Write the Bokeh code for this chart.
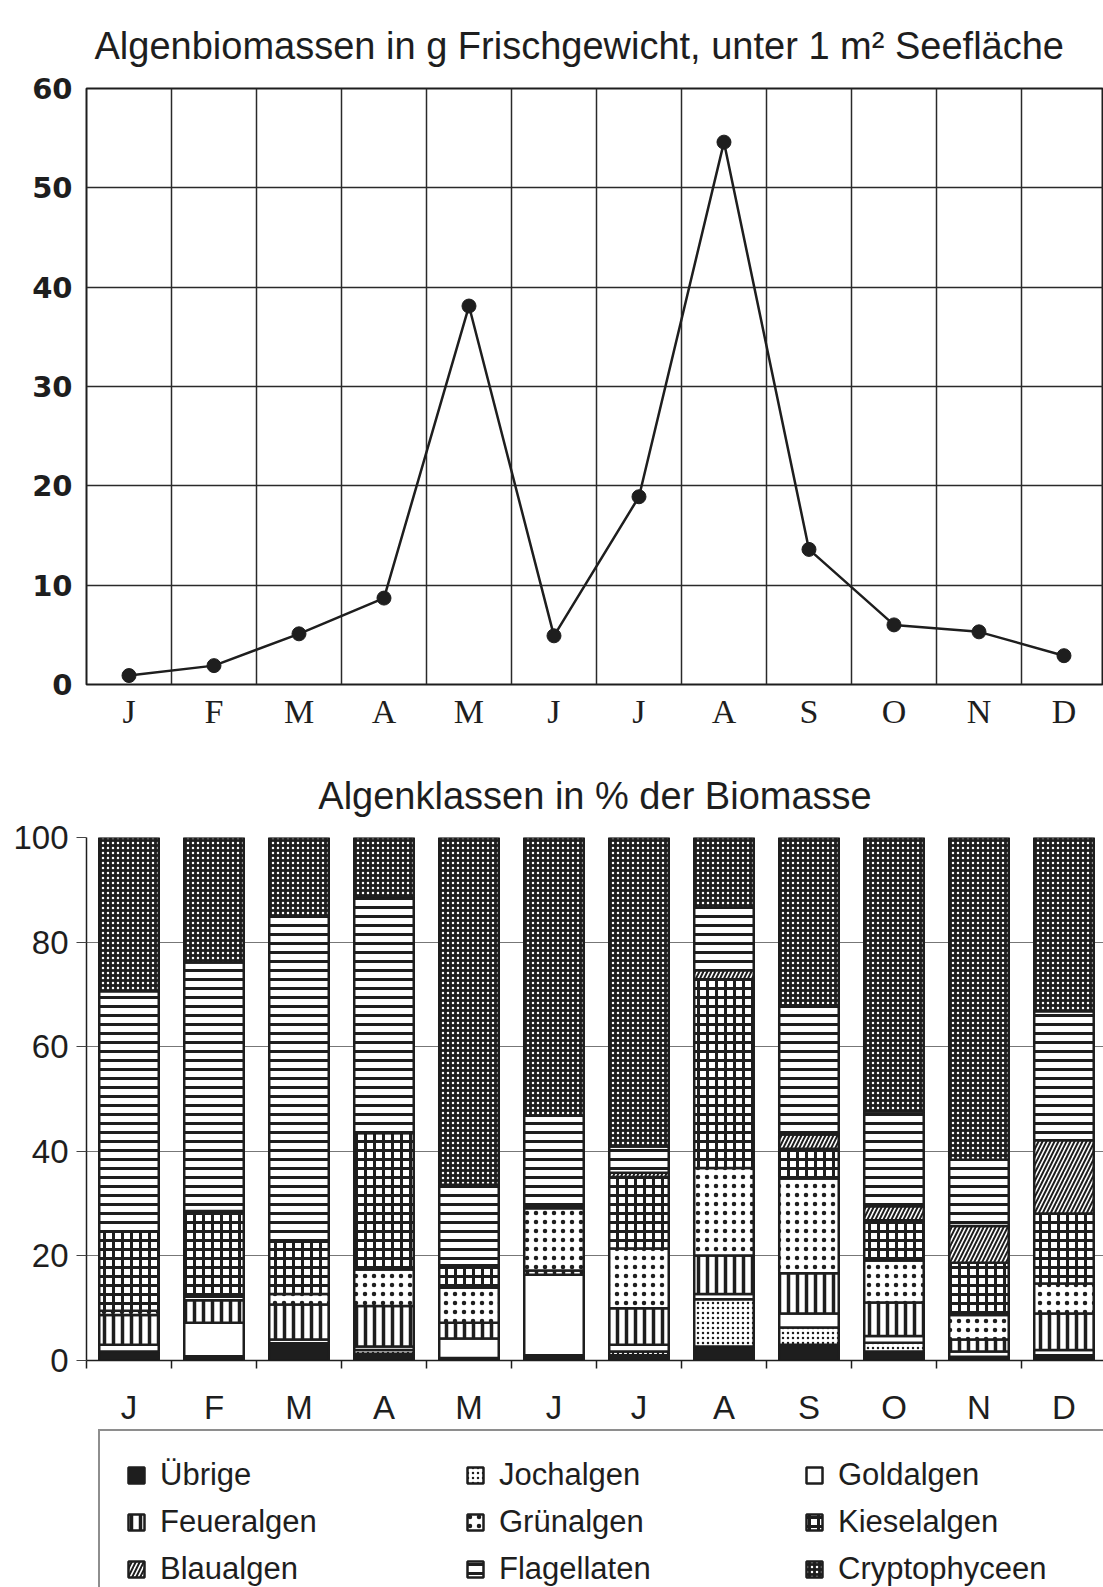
from bokeh.plotting import figure
from bokeh.models import Range1d, FixedTicker, Legend, LegendItem, ColumnDataSource
from bokeh.layouts import column
from bokeh.embed import file_html
from bokeh.resources import INLINE

# ---------------- data ----------------
months = ["J", "F", "M", "A", "M", "J", "J", "A", "S", "O", "N", "D"]
biomass = [0.9, 1.9, 5.1, 8.7, 38.1, 4.9, 18.9, 54.6, 13.6, 6.0, 5.3, 2.9]

class_names = ["Übrige", "Jochalgen", "Goldalgen", "Feueralgen", "Grünalgen",
               "Kieselalgen", "Blaualgen", "Flagellaten", "Cryptophyceen"]
ubrige      = [1.7, 0.8, 3.3, 1.3, 0.5, 1.0, 1.0, 2.7, 3.0, 1.7, 0.7, 1.0]
jochalgen   = [0.0, 0.0, 0.0, 0.7, 0.0, 0.0, 0.7, 9.0, 3.3, 1.7, 0.0, 0.0]
goldalgen   = [1.3, 6.4, 0.7, 0.7, 3.7, 15.4, 1.3, 1.0, 2.7, 1.3, 1.0, 1.0]
feueralgen  = [5.7, 4.3, 6.7, 7.7, 3.0, 0.8, 7.0, 7.4, 7.7, 6.4, 2.3, 7.0]
grunalgen   = [0.8, 0.7, 2.0, 7.0, 6.7, 11.9, 11.4, 16.7, 18.1, 8.0, 4.7, 5.7]
kieselalgen = [15.2, 16.4, 10.0, 26.1, 4.3, 0.5, 13.7, 36.1, 5.7, 7.7, 10.0, 13.4]
blaualgen   = [0.0, 0.0, 0.0, 0.0, 0.0, 0.0, 0.8, 1.7, 2.7, 2.7, 7.0, 14.0]
flagellaten = [45.9, 47.5, 62.2, 45.2, 15.4, 17.2, 5.0, 12.0, 24.7, 18.1, 12.7, 24.7]
cryptophyceen = [29.4, 23.9, 15.1, 11.3, 66.4, 53.2, 59.1, 13.4, 32.1, 52.4, 61.6, 33.2]

y1_ticks = [0, 10, 20, 30, 40, 50, 60]
y2_ticks = [0, 20, 40, 60, 80, 100]

# ---------------- helpers ----------------
n = len(months)
centers = [i + 0.5 for i in range(n)]
bounds = list(range(n + 1))
labels = {c: m for c, m in zip(centers, months)}
XEND = 11.965
W = 1103
INK = "#1e1e1e"
H1, H2 = 740, 688
LH = 1587 - H1 - H2

# ---------------- top chart ----------------
p1 = figure(width=W, height=H1, x_range=Range1d(0, XEND), y_range=Range1d(0, 60),
            output_backend="svg", toolbar_location=None,
            min_border_left=86, min_border_right=0, min_border_top=88, min_border_bottom=56)
p1.title.text = "Algenbiomassen in g Frischgewicht, unter 1 m² Seefläche"
p1.title.text_font = "Liberation Sans"
p1.title.text_font_size = "38px"
p1.title.text_font_style = "normal"
p1.title.text_color = INK
p1.title.align = "left"
p1.title.offset = 8
p1.title.standoff = 43

p1.xaxis.ticker = FixedTicker(ticks=centers)
p1.xaxis.major_label_overrides = labels
p1.xaxis.major_label_text_font = "Liberation Serif"
p1.xaxis.major_label_text_font_size = "34px"
p1.xaxis.major_label_text_color = INK
p1.xaxis.major_label_standoff = 8
p1.yaxis.ticker = FixedTicker(ticks=y1_ticks)
p1.yaxis.major_label_text_font = "DejaVu Sans"
p1.yaxis.major_label_text_font_style = "bold"
p1.yaxis.major_label_text_font_size = "29px"
p1.yaxis.major_label_text_color = INK
p1.yaxis.major_label_standoff = 14
for ax in (p1.xaxis, p1.yaxis):
    ax.axis_line_color = None
    ax.major_tick_out = 0
    ax.major_tick_in = 0
    ax.minor_tick_out = 0
    ax.minor_tick_in = 0
p1.xgrid.ticker = FixedTicker(ticks=bounds)
p1.ygrid.ticker = FixedTicker(ticks=y1_ticks)
for g in (p1.xgrid, p1.ygrid):
    g.grid_line_color = "#2a2a2a"
    g.grid_line_width = 1.5
    g.grid_line_alpha = 1
p1.outline_line_color = INK
p1.outline_line_width = 2

p1.line(centers, biomass, line_color=INK, line_width=2.5)
p1.scatter(centers, biomass, size=14, fill_color=INK, line_color=INK)

# ---------------- bottom chart ----------------
stackers = ["ubrige", "jochalgen", "goldalgen", "feueralgen", "grunalgen",
            "kieselalgen", "blaualgen", "flagellaten", "cryptophyceen"]
src = ColumnDataSource(dict(x=centers, ubrige=ubrige, jochalgen=jochalgen, goldalgen=goldalgen,
                            feueralgen=feueralgen, grunalgen=grunalgen, kieselalgen=kieselalgen,
                            blaualgen=blaualgen, flagellaten=flagellaten, cryptophyceen=cryptophyceen))

p2 = figure(width=W, height=H2, x_range=Range1d(0, XEND), y_range=Range1d(0, 100),
            output_backend="svg", toolbar_location=None,
            min_border_left=86, min_border_right=0, min_border_top=97, min_border_bottom=68)
p2.title.text = "Algenklassen in % der Biomasse"
p2.title.text_font = "Liberation Sans"
p2.title.text_font_size = "38px"
p2.title.text_font_style = "normal"
p2.title.text_color = INK
p2.title.align = "center"
p2.title.standoff = 42

p2.xaxis.ticker = FixedTicker(ticks=centers, minor_ticks=bounds)
p2.xaxis.major_label_overrides = labels
p2.xaxis.major_label_text_font = "Liberation Sans"
p2.xaxis.major_label_text_font_size = "33px"
p2.xaxis.major_label_text_color = INK
p2.xaxis.major_label_standoff = 20
p2.xaxis.major_tick_out = 0
p2.xaxis.major_tick_in = 0
p2.xaxis.minor_tick_out = 8
p2.xaxis.minor_tick_in = 0
p2.xaxis.minor_tick_line_color = INK
p2.xaxis.minor_tick_line_width = 1.5
p2.xaxis.axis_line_color = INK
p2.xaxis.axis_line_width = 1.5

p2.yaxis.ticker = FixedTicker(ticks=y2_ticks)
p2.yaxis.major_label_text_font = "Liberation Sans"
p2.yaxis.major_label_text_font_size = "33px"
p2.yaxis.major_label_text_color = INK
p2.yaxis.major_label_standoff = 8
p2.yaxis.major_tick_out = 10
p2.yaxis.major_tick_in = 0
p2.yaxis.major_tick_line_color = "#444444"
p2.yaxis.minor_tick_out = 0
p2.yaxis.minor_tick_in = 0
p2.yaxis.axis_line_color = INK
p2.yaxis.axis_line_width = 1.5

p2.xgrid.grid_line_color = None
p2.ygrid.ticker = FixedTicker(ticks=y2_ticks)
p2.ygrid.grid_line_color = "#777777"
p2.ygrid.grid_line_width = 1
p2.outline_line_color = None

fills = [INK, "white", "white", "white", "white", "white", "white", "white", INK]
hatches = [None, ".", None, "|", ".", "+", "/", "-", "."]
hcolors = [INK, INK, INK, INK, INK, INK, INK, INK, "white"]
hscales = [8, 5, 8, 9, 9, 9, 8, 9, 5]
hweights = [1, 1.5, 1, 3.5, 6, 3, 2, 3, 4]
style = dict(fill_color=fills, line_color=INK, line_width=2.5,
             hatch_pattern=hatches, hatch_color=hcolors,
             hatch_scale=hscales, hatch_weight=hweights)

rs = p2.vbar_stack(stackers, x="x", width=0.7, source=src, **style)

# ---------------- legend strip ----------------
# the strip's own copy of the stack only feeds the legend swatches; it sits
# entirely underneath the opaque legend box
p3 = figure(width=W, height=LH, x_range=Range1d(-0.15, XEND - 0.15), y_range=Range1d(0, 115),
            output_backend="svg", toolbar_location=None,
            x_axis_location=None, y_axis_location=None,
            min_border_left=0, min_border_right=0, min_border_top=0, min_border_bottom=0)
p3.grid.visible = False
p3.outline_line_color = None
lr = p3.vbar_stack(stackers, x="x", width=0.7, source=src, **style)

PAD, ROWH, SP = 26, 36, 11
LEG_H = 2 * PAD + 3 * ROWH + 2 * SP
items = [LegendItem(label=name, renderers=[r]) for name, r in zip(class_names, lr)]
legend = Legend(items=items, orientation="horizontal", ncols=3,
                location=(12, LH - 5 - LEG_H),
                glyph_width=20, glyph_height=20,
                label_text_font="Liberation Sans", label_text_font_size="31px",
                label_text_color=INK,
                label_standoff=14, label_width=294, label_height=ROWH,
                spacing=SP, padding=PAD, margin=0,
                border_line_color=INK, border_line_width=2,
                background_fill_color="white", background_fill_alpha=1)
p3.add_layout(legend, "center")

layout = column(p1, p2, p3, spacing=0)
open("out.html", "w").write(file_html(layout, INLINE))
